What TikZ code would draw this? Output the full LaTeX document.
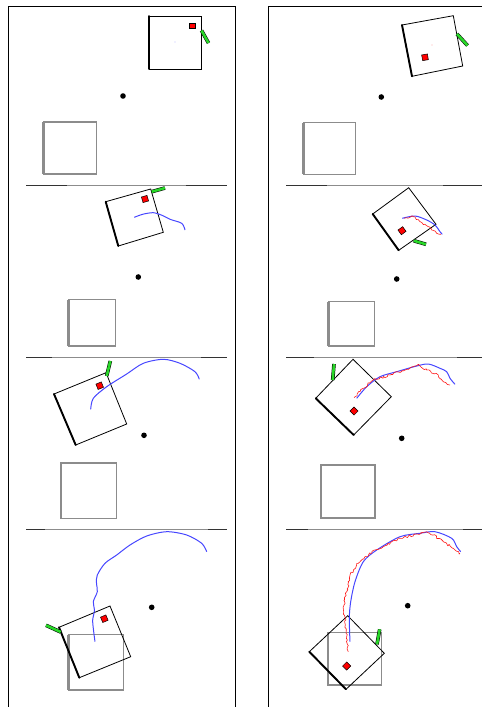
\documentclass[tikz,border=0pt]{standalone}
\usetikzlibrary{decorations.pathmorphing}
\definecolor{trackblue}{RGB}{70,70,255}
\definecolor{trackred}{RGB}{255,25,25}
\definecolor{barg}{RGB}{40,215,40}
\definecolor{goalgray}{RGB}{140,140,140}
\tikzset{
  frameline/.style={black, line width=0.8pt},
  sepgray/.style={goalgray, line width=0.6pt},
  sepblack/.style={black!80, line width=1.6pt},
  boxline/.style={black, line width=0.8pt, line join=miter},
  boxthick/.style={black, line width=1.9pt, line cap=round},
  goalbox/.style={goalgray, line width=1.1pt},
  goalthick/.style={goalgray, line width=2.6pt},
  marker/.style={draw=black, fill=red, line width=0.5pt, minimum size=5.8pt, inner sep=0pt, rectangle},
  greenbar/.style={draw=black, double=barg, double distance=2.6pt, line width=0.5pt},
  pivot/.style={circle, fill=black, minimum size=5.6pt, inner sep=0pt},
  bluepath/.style={trackblue, line width=1pt, line join=round},
  redpath/.style={trackred, line width=0.6pt, line join=round, decorate,
     decoration={random steps, segment length=1.8pt, amplitude=1.1pt}},
}
\begin{document}
\begin{tikzpicture}[x=1pt,y=-1pt]
\pgfmathsetseed{7}
\useasboundingbox (0,0) rectangle (482,707);
% frames
\draw[frameline] (8,707) -- (8,6) -- (235,6) -- (235,707);
\draw[frameline] (268,707) -- (268,6) -- (482,6);
% separators left column
\foreach \y/\a/\b in {185.5/67/186, 357.5/52/201, 529.5/45/208}{
  \draw[sepgray] (26,\y) -- (227,\y);
  \draw[sepblack] (26,\y) -- (\a,\y);
  \draw[sepblack] (\b,\y) -- (227,\y);
}
% separators right column
\foreach \y/\a/\b in {185.5/327/443, 357.5/314/457, 529.5/308/463}{
  \draw[sepgray] (286,\y) -- (482,\y);
  \draw[sepblack] (286,\y) -- (\a,\y);
  \draw[sepblack] (\b,\y) -- (482,\y);
}
% ---------------- Row 1 left
\draw[goalbox] (43.7,122) rectangle (96.7,174);
\draw[goalthick] (43.7,122) -- (43.7,174);
\node[pivot] (p1l) at (123,96) {};
\draw[boxline] (149,16) -- (201.7,16) -- (201.7,69) -- (149,69) -- cycle;
\draw[boxthick] (149,16) -- (149,69);
\node[marker] (m1l) at (192,25.7) {};
\draw[greenbar] (201.5,30.5) -- (208.5,43);
\fill[trackblue] (175,42) circle (0.4);
% ---------------- Row 1 right
\draw[goalbox] (303.3,122.7) rectangle (355.3,174.3);
\draw[goalthick] (303.3,122.7) -- (303.3,174.3);
\node[pivot] (p1r) at (381.3,97) {};
\draw[boxline] (402,25) -- (453.3,15.7) -- (462.7,66) -- (412,76.3) -- cycle;
\draw[boxthick] (402,25) -- (412,76.3);
\node[marker, rotate=10] (m1r) at (425,57.3) {};
\draw[greenbar] (457,34) -- (467.5,45.5);
\fill[trackred] (432,45) circle (0.4);
% ---------------- Row 2 left
\draw[goalbox] (68.3,299.7) rectangle (115.3,346);
\draw[goalthick] (68.3,299.7) -- (68.3,346);
\node[pivot] (p2l) at (138.3,277) {};
\draw[boxline] (105.7,201.7) -- (150.7,189) -- (163.3,232.3) -- (118.3,246) -- cycle;
\draw[boxthick] (105.7,201.7) -- (118.3,246);
\node[marker, rotate=16] (m2l) at (145,199) {};
\draw[greenbar] (151.7,191.7) -- (165,188);
\draw[bluepath] plot[smooth] coordinates {(134.3,217.3) (143,214.2) (153.3,212.7) (162,215.3) (170,219.3) (181.7,223.3) (185,230)};
% ---------------- Row 2 right
\draw[goalbox] (328.7,301.7) rectangle (374.3,346);
\draw[goalthick] (328.7,301.7) -- (328.7,346);
\node[pivot] (p2r) at (396.7,279) {};
\draw[boxline] (372.7,214) -- (408.7,187.7) -- (436,224.3) -- (398.7,250.3) -- cycle;
\draw[boxthick] (372.7,214) -- (398.7,250.3);
\node[marker, rotate=36] (m2r) at (402,230.7) {};
\draw[greenbar] (413.7,240.7) -- (426,244.3);
\draw[bluepath] plot[smooth] coordinates {(402.3,218.3) (415,216) (426.7,220) (435,225) (440,231.7) (442.3,234.3)};
\draw[redpath] (404.3,218.3) -- (413.3,216.7) -- (420,221.7) -- (426.7,225.7) -- (431.7,230) -- (436.7,233.3) -- (441,234.3);
% ---------------- Row 3 left
\draw[goalbox] (61,463) rectangle (116.3,518.3);
\draw[goalthick] (61,463) -- (61,518.3);
\node[pivot] (p3l) at (144,435.3) {};
\draw[boxline] (54,394) -- (106,372.7) -- (126.7,424) -- (75.7,445) -- cycle;
\draw[boxthick] (54,394) -- (75.7,445);
\node[marker, rotate=22] (m3l) at (99.7,385.7) {};
\draw[greenbar] (106.7,376) -- (110.3,361);
\draw[bluepath] plot[smooth] coordinates {(90.7,409.3) (93.3,398.3) (106.7,386.7) (126.7,374) (143.3,363.3) (163.3,359.3) (180,363.3) (195,371.7) (199.3,379.3)};
% ---------------- Row 3 right
\draw[goalbox] (321,465) rectangle (375,518);
\draw[goalthick] (321,465) -- (321,518);
\node[pivot] (p3r) at (401.7,438.3) {};
\draw[boxline] (315.7,398.3) -- (353,359.3) -- (391.3,396.7) -- (353.7,435) -- cycle;
\draw[boxthick] (315.7,398.3) -- (353.7,435);
\node[marker, rotate=45] (m3r) at (354,411) {};
\draw[greenbar] (332.7,380) -- (334,364);
\draw[bluepath] plot[smooth] coordinates {(356.7,398.3) (366.7,386.7) (380,376.7) (396.7,371.7) (416.7,366) (428.3,364) (440,368.3) (446.7,371.7) (450,378.3) (455,384.3)};
\draw[redpath] (354,397.7) -- (363.3,388.3) -- (373.3,380) -- (390,375) -- (406.7,369.3) -- (418.3,364.3) -- (426.7,370) -- (438.3,375) -- (443.3,381.7) -- (450,385);
% ---------------- Row 4 left
\draw[goalbox] (68.3,634.7) rectangle (123.7,690);
\draw[goalthick] (68.3,634.7) -- (68.3,690);
\node[pivot] (p4l) at (151.7,607.3) {};
\draw[boxline] (59,627.3) -- (110,606) -- (130.7,656.7) -- (79.3,677.7) -- cycle;
\draw[boxthick] (59,627.3) -- (79.3,677.7);
\node[marker, rotate=23] (m4l) at (104.3,618.7) {};
\draw[greenbar] (46,625.3) -- (60.7,632);
\draw[bluepath] plot[smooth, tension=0.5] coordinates {(95,641.7) (93.5,630) (92.7,620) (94.5,610) (93.3,601.7) (97.3,591.7) (96.5,583) (97.3,575) (105,563.3) (116.7,555) (130,545) (146.7,536) (166.7,531.7) (186.7,535) (201.7,543.3) (206.7,551.7)};
% ---------------- Row 4 right
\draw[goalbox] (328,632.3) rectangle (381.3,685);
\draw[goalthick] (328,632.3) -- (328,685);
\node[pivot] (p4r) at (407.7,605.7) {};
\draw[boxline] (309.3,651.7) -- (347.7,615.7) -- (384.3,653.3) -- (346,689.3) -- cycle;
\draw[boxthick] (309.3,651.7) -- (346,689.3);
\node[marker, rotate=45] (m4r) at (346.7,666) {};
\draw[greenbar] (377,644.3) -- (379.7,629.3);
\draw[bluepath] plot[smooth] coordinates {(350,641.7) (349.3,618.3) (350.7,601.7) (355,581.7) (363.3,561.7) (376.7,550) (400,536.7) (420,533.3) (435,531.7) (451.7,538.3) (456.7,546.7) (460.7,551.7)};
\draw[redpath] (348.3,651.7) -- (347.3,640) -- (344.3,615) -- (344,605) -- (346.7,591.7) -- (350,575) -- (358.3,563.3) -- (370,553.3) -- (383.3,546.7) -- (400,538.3) -- (413.3,535) -- (426.7,531.7) -- (433.3,535) -- (443.3,541.7) -- (453.3,548.3) -- (460,553.3);
\end{tikzpicture}
\end{document}
